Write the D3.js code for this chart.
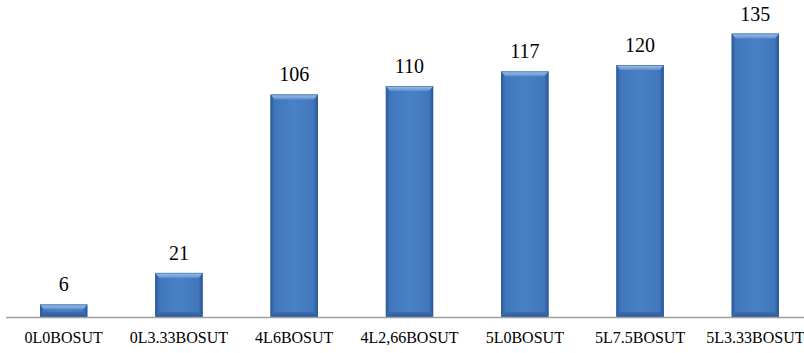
<!DOCTYPE html>
<html>
<head>
<meta charset="utf-8">
<script src="https://cdn.jsdelivr.net/npm/d3@7/dist/d3.min.js"></script>
<style>
  html, body { margin: 0; padding: 0; background: #fff; }
  svg { display: block; }
</style>
</head>
<body>
<svg id="chart" width="804" height="353"></svg>
<script>
// Treatment groups and their measured values
const categories = ["0L0BOSUT", "0L3.33BOSUT", "4L6BOSUT", "4L2,66BOSUT", "5L0BOSUT", "5L7.5BOSUT", "5L3.33BOSUT"];
const values = [6, 21, 106, 110, 117, 120, 135];

const W = 804, H = 353;
const baseY = 317;

const svg = d3.select("#chart");

const x = d3.scaleBand()
  .domain(categories)
  .range([6, 813])
  .paddingInner(0.59)
  .paddingOuter(0.295);

const y = d3.scaleLinear().domain([0, 150]).range([baseY, 2]);

// Gradients for the bevelled bar look
const defs = svg.append("defs");
function linGrad(id, x1, y1, x2, y2, stops) {
  const g = defs.append("linearGradient").attr("id", id)
    .attr("x1", x1).attr("y1", y1).attr("x2", x2).attr("y2", y2);
  stops.forEach(s => g.append("stop").attr("offset", s[0]).attr("stop-color", s[1]));
}
linGrad("face", 0, 0, 1, 0, [[0, "#3f74ba"], [0.5, "#4a81c6"], [1, "#3f74ba"]]);
linGrad("topBevel", 0, 0, 0, 1, [[0, "#a7c6ee"], [1, "#5b8fd0"]]);
linGrad("leftBevel", 0, 0, 1, 0, [[0, "#2c5a98"], [1, "#3f74ba"]]);
linGrad("rightBevel", 0, 0, 1, 0, [[0, "#3f74ba"], [1, "#2a5592"]]);
linGrad("bottomBevel", 0, 0, 0, 1, [[0, "#3a6db0"], [1, "#2d5b98"]]);

const bev = 5, side = 4;
const bars = svg.append("g").selectAll("g")
  .data(categories.map((c, i) => ({ c, v: values[i] })))
  .join("g");

bars.each(function (d) {
  const g = d3.select(this);
  const x0 = x(d.c), x1 = x0 + x.bandwidth();
  const y0 = y(d.v), y1 = y(0);
  const b = Math.min(bev, (y1 - y0) / 2);
  const s = side;
  g.append("rect").attr("x", x0).attr("y", y0).attr("width", x1 - x0).attr("height", y1 - y0)
    .attr("fill", "url(#face)");
  // left edge
  g.append("polygon").attr("points", [[x0, y0], [x0 + s, y0 + b], [x0 + s, y1 - b], [x0, y1]].join(" "))
    .attr("fill", "url(#leftBevel)");
  // right edge
  g.append("polygon").attr("points", [[x1, y0], [x1 - s, y0 + b], [x1 - s, y1 - b], [x1, y1]].join(" "))
    .attr("fill", "url(#rightBevel)");
  // bottom edge
  g.append("polygon").attr("points", [[x0, y1], [x0 + s, y1 - b], [x1 - s, y1 - b], [x1, y1]].join(" "))
    .attr("fill", "url(#bottomBevel)");
  // top edge
  g.append("polygon").attr("points", [[x0, y0], [x1, y0], [x1 - s, y0 + b], [x0 + s, y0 + b]].join(" "))
    .attr("fill", "url(#topBevel)");
  g.append("rect").attr("x", x0 + 0.5).attr("y", y0 + 0.5).attr("width", x1 - x0 - 1).attr("height", y1 - y0 - 1)
    .attr("fill", "none").attr("stroke", "#2f5f9e").attr("stroke-width", 1).attr("stroke-opacity", 0.6);
});

// Value labels
svg.append("g").selectAll("text")
  .data(categories.map((c, i) => ({ c, v: values[i] })))
  .join("text")
  .attr("x", d => x(d.c) + x.bandwidth() / 2)
  .attr("y", d => y(d.v) - 13)
  .attr("text-anchor", "middle")
  .attr("font-family", "'Liberation Serif', 'Times New Roman', serif")
  .attr("font-size", 20)
  .attr("fill", "#000")
  .text(d => d.v);

// Category axis
const axis = d3.axisBottom(x).tickSize(0).tickPadding(0);
const ax = svg.append("g").attr("transform", `translate(0,${baseY})`).call(axis);
ax.select(".domain").remove();
ax.append("line").attr("x1", 6).attr("x2", W).attr("y1", 0.5).attr("y2", 0.5)
  .attr("stroke", "#a0a0a0").attr("stroke-width", 1.5);
ax.selectAll(".tick text")
  .attr("y", 26)
  .attr("dy", 0)
  .attr("font-family", "'Liberation Serif', 'Times New Roman', serif")
  .attr("font-size", 16)
  .attr("fill", "#000");
</script>
</body>
</html>
